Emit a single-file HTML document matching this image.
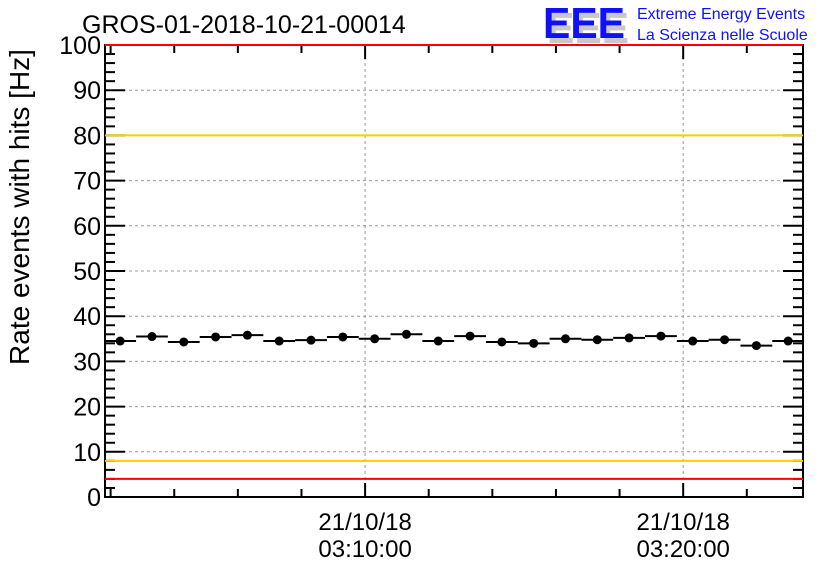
<!DOCTYPE html>
<html><head><meta charset="utf-8"><style>
body{margin:0;background:#fff}
svg{display:block;font-family:"Liberation Sans",sans-serif}
</style></head><body>
<svg width="836" height="572">
<rect width="836" height="572" fill="#fff"/>
<text x="82" y="33" font-size="25">GROS-01-2018-10-21-00014</text>
<g>
<text x="547" y="43" font-size="44" font-weight="bold" fill="#c8c8c8" textLength="82" lengthAdjust="spacingAndGlyphs">EEE</text>
<text x="543" y="38" font-size="44" font-weight="bold" fill="#1010ff" textLength="82" lengthAdjust="spacingAndGlyphs">EEE</text>
<text x="637" y="19" font-size="16" fill="#1010ff">Extreme Energy Events</text>
<text x="637" y="40" font-size="16" fill="#1010ff">La Scienza nelle Scuole</text>
</g>
<text transform="translate(29,207) rotate(-90)" text-anchor="middle" font-size="28">Rate events with hits [Hz]</text>
<g id="grid"></g><g id="axes"></g><g id="marks"></g>
</svg>
<script>
const times = [-462,-402,-342,-282,-222,-162,-102,-42,18,78,138,198,258,318,378,438,498,558,618,678,738,798];
const rates = [34.5,35.5,34.3,35.4,35.8,34.5,34.7,35.4,35.0,36.0,34.5,35.6,34.3,34.0,35.0,34.8,35.2,35.6,34.5,34.8,33.5,34.5];
const yTicks = [0,10,20,30,40,50,60,70,80,90,100];
const xMajor = [0,600];
const xLabelsDate = ["21/10/18","21/10/18"];
const xLabelsTime = ["03:10:00","03:20:00"];
const thresholds = [4,8,80,100];
const thresholdColors = ["#ff0000","#ffcc00","#ffcc00","#ff0000"];
const L=105,R=803,T=45,B=497,T0=-490.6,T1=826;
const X=t=>L+(t-T0)/(T1-T0)*(R-L);
const Y=v=>B-v/100*(B-T);
const NS="http://www.w3.org/2000/svg";
function mk(p,tag,a){const e=document.createElementNS(NS,tag);for(const k in a)e.setAttribute(k,a[k]);p.appendChild(e);return e;}
const grid=document.getElementById('grid'),axes=document.getElementById('axes'),marks=document.getElementById('marks');
yTicks.forEach(v=>{if(v>0&&v<100){const g=mk(grid,'line',{x1:L,x2:R,y1:Y(v),y2:Y(v),stroke:'#999','stroke-dasharray':'3,3'});

}
const t=mk(axes,'text',{x:L-4,y:Y(v)+9,'text-anchor':'end','font-size':25});t.textContent=v;

});
for(let v=0;v<=100;v+=2){const len=(v%10===0)?20:10;
mk(axes,'line',{x1:L,x2:L+len,y1:Y(v),y2:Y(v),stroke:'#000','stroke-width':2});
mk(axes,'line',{x1:R,x2:R-len,y1:Y(v),y2:Y(v),stroke:'#000','stroke-width':2});}
xMajor.forEach((t,i)=>{const g=mk(grid,'line',{x1:X(t),x2:X(t),y1:T,y2:B,stroke:'#999','stroke-dasharray':'3,3'});


const a=mk(axes,'text',{x:X(t),y:530,'text-anchor':'middle','font-size':24});a.textContent=xLabelsDate[i];


const b=mk(axes,'text',{x:X(t),y:557,'text-anchor':'middle','font-size':24});b.textContent=xLabelsTime[i];

});
for(let t=-480;t<=T1;t+=120){const len=(t%600===0)?14:8;
mk(axes,'line',{x1:X(t),x2:X(t),y1:B,y2:B-len,stroke:'#000','stroke-width':2});
mk(axes,'line',{x1:X(t),x2:X(t),y1:T,y2:T+len,stroke:'#000','stroke-width':2});}
mk(axes,'rect',{x:L,y:T,width:R-L,height:B-T,fill:'none',stroke:'#000','stroke-width':2});
thresholds.forEach((v,i)=>{const l=mk(marks,'line',{x1:L,x2:R,y1:Y(v),y2:Y(v),stroke:thresholdColors[i],'stroke-width':2});

});
times.forEach((t,i)=>{const y=Y(rates[i]);
const h=mk(marks,'line',{x1:X(t-30),x2:X(t+30),y1:y,y2:y,stroke:'#000','stroke-width':2});


const c=mk(marks,'circle',{cx:X(t),cy:y,r:4.5,fill:'#000'});

});
</script>
</body></html>
